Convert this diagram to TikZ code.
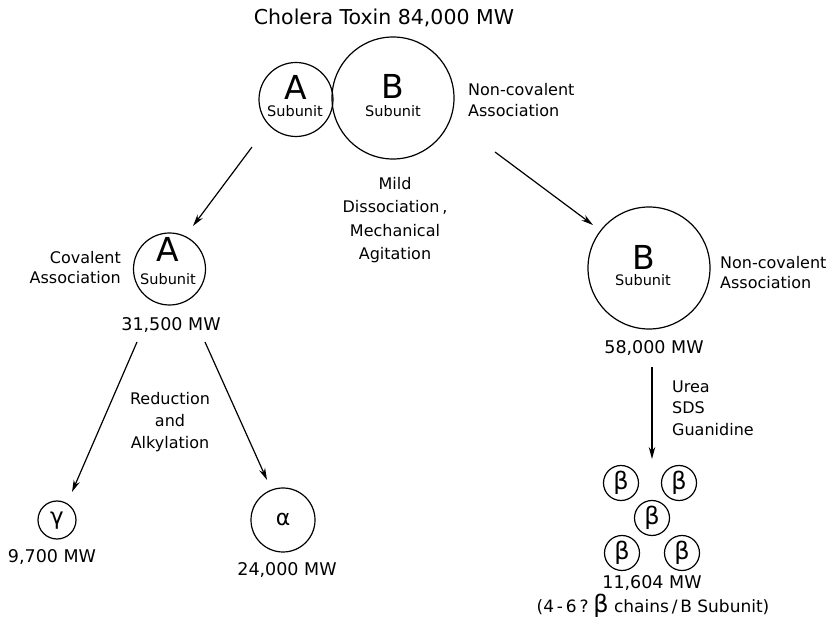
\documentclass[tikz,border=0pt]{standalone}
\usepackage{fontspec}
\setmainfont{DejaVu Sans}
\usetikzlibrary{arrows.meta}
\begin{document}
\begin{tikzpicture}[x=1pt,y=-1pt,
  circ/.style={draw, circle, inner sep=0pt, line width=1.2pt},
  lbl/.style={font=\fontsize{16}{21}\selectfont, align=center, inner sep=0pt},
  mw/.style={font=\fontsize{17.5}{21}\selectfont, inner sep=0pt},
  big/.style={font=\fontsize{33}{33}\selectfont, inner sep=0pt},
  sub/.style={font=\fontsize{14.5}{15}\selectfont, inner sep=0pt},
  greek/.style={font=\fontsize{22}{22}\selectfont, inner sep=0pt},
  arr/.style={-{Stealth[length=12pt,width=6.5pt]}, line width=1.2pt}]
\useasboundingbox (0,0) rectangle (831,620);
% title
\node[font=\fontsize{20.5}{22}\selectfont, inner sep=0pt] (title) at (384,18) {Cholera Toxin 84,000 MW};
% top circles
\node[circ, minimum size=74pt] (Atop) at (296,99.5) {};
\node[circ, minimum size=122pt] (Btop) at (393,98) {};
\node[big] (AtopL) at (296,87) {A};
\node[sub] (AtopS) at (295,111) {Subunit};
\node[big] (BtopL) at (393,86) {B};
\node[sub] (BtopS) at (393,111) {Subunit};
\node[lbl, align=left, anchor=west] (nc1) at (468,100.5) {Non-covalent\\Association};
% middle label
\node[lbl, font=\fontsize{16}{23.3}\selectfont] (mild) at (395,220) {Mild\\Dissociation\,,\\Mechanical\\Agitation};
% A middle
\node[circ, minimum size=72pt] (Amid) at (169.5,269) {};
\node[big] (AmidL) at (168,249) {A};
\node[sub] (AmidS) at (168,279) {Subunit};
\node[lbl, align=right, anchor=east, font=\fontsize{16}{20}\selectfont] (cov) at (121,268) {Covalent\\Association};
\node[mw] (mwA) at (171,325) {31,500 MW};
% B middle
\node[circ, minimum size=122pt] (Bmid) at (649,268) {};
\node[big] (BmidL) at (644,257) {B};
\node[sub] (BmidS) at (643,280) {Subunit};
\node[lbl, align=left, anchor=west, font=\fontsize{16}{20}\selectfont] (nc2) at (720,273) {Non-covalent\\Association};
\node[mw] (mwB) at (654,348) {58,000 MW};
% reduction
\node[lbl, font=\fontsize{16}{22}\selectfont] (red) at (170,422) {Reduction\\and\\Alkylation};
% gamma, alpha
\node[circ, minimum size=38pt] (gam) at (57,520) {};
\node[greek, font=\fontsize{23}{23}\selectfont] (gamL) at (57,521) {γ};
\node[mw] (mwG) at (52,557) {9,700 MW};
\node[circ, minimum size=64pt] (alp) at (283,520) {};
\node[greek] (alpL) at (283,519) {α};
\node[mw] (mwAl) at (287,570) {24,000 MW};
% urea
\node[lbl, align=left, anchor=west, font=\fontsize{16}{21.5}\selectfont] (urea) at (672,408) {Urea\\SDS\\Guanidine};
% betas
\node[circ, minimum size=35pt] (b1) at (621,483) {};
\node[circ, minimum size=35pt] (b2) at (679,483) {};
\node[circ, minimum size=35pt] (b3) at (652,518) {};
\node[circ, minimum size=35pt] (b4) at (622,553) {};
\node[circ, minimum size=35pt] (b5) at (682,553) {};
\node[greek, font=\fontsize{24}{24}\selectfont] (b1L) at (621,483) {β};
\node[greek, font=\fontsize{24}{24}\selectfont] (b2L) at (679,483) {β};
\node[greek, font=\fontsize{24}{24}\selectfont] (b3L) at (652,518) {β};
\node[greek, font=\fontsize{24}{24}\selectfont] (b4L) at (622,553) {β};
\node[greek, font=\fontsize{24}{24}\selectfont] (b5L) at (682,553) {β};
\node[mw] (mwBeta) at (652,583) {11,604 MW};
\node[font=\fontsize{17}{20}\selectfont, inner sep=0pt, anchor=base] (chains) at (653,612) {(4\,-\,6\,?\;{\fontsize{24}{24}\selectfont β} chains\,/\,B Subunit)};
% arrow end points
\coordinate (s1) at (252,147);
\coordinate (e1) at (193,226);
\coordinate (s2) at (495,152);
\coordinate (e2) at (593,225);
\coordinate (s3) at (137,342);
\coordinate (e3) at (72,492);
\coordinate (s4) at (205,342);
\coordinate (e4) at (267,480);
\coordinate (s5) at (652,367);
\coordinate (e5) at (652,459);
\draw[arr] (s1) -- (e1);
\draw[arr] (s2) -- (e2);
\draw[arr] (s3) -- (e3);
\draw[arr] (s4) -- (e4);
\draw[arr] (s5) -- (e5);
\end{tikzpicture}
\end{document}
